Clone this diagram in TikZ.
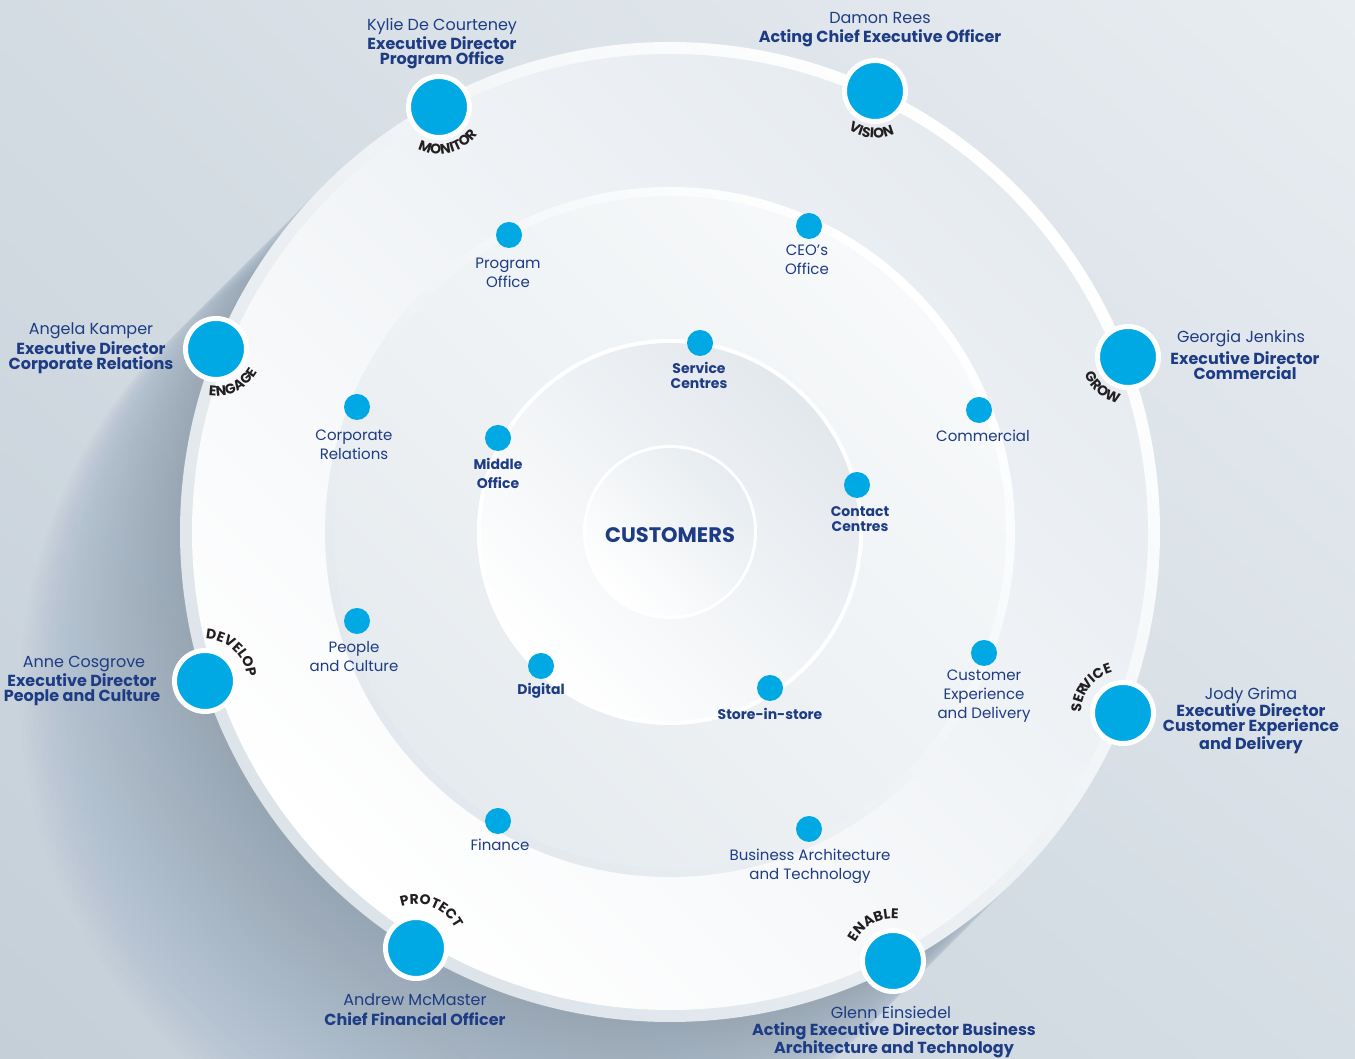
\documentclass[tikz,border=0pt]{standalone}
\usepackage{fontspec}
\setmainfont{Poppins}
\usetikzlibrary{decorations.text,shadings}

\definecolor{navy}{HTML}{1E3C84}
\definecolor{dotblue}{HTML}{00A9E4}
\definecolor{labelink}{HTML}{231F20}
\definecolor{bgUL}{HTML}{D4DCE3}
\definecolor{bgUR}{HTML}{E8EDF1}
\definecolor{bgLL}{HTML}{C4CFD8}
\definecolor{bgLR}{HTML}{D6DEE5}
\definecolor{shadowc}{HTML}{5F7286}
\definecolor{bandLL}{HTML}{DCE3E9}
\definecolor{annUR}{HTML}{E6EBF0}
\definecolor{midLL}{HTML}{E2E8ED}
\definecolor{midannLL}{HTML}{E6EBEF}
\definecolor{midannUR}{HTML}{F7F9FA}
\definecolor{innUR}{HTML}{E3E8ED}
\definecolor{coreUR}{HTML}{E7ECF0}

\newcommand\ringfont{\fontsize{14}{14}\selectfont\bfseries}

\tikzset{
  bigdot/.style={circle, fill=dotblue, draw=white, line width=5pt, minimum size=61pt, inner sep=0pt},
  smalldot/.style={circle, fill=dotblue, minimum size=26pt, inner sep=0pt},
  person/.style={text=navy, inner sep=0pt, font=\fontsize{16}{16}\selectfont},
  role/.style={text=navy, inner sep=0pt, align=center, font=\fontsize{16}{15}\selectfont\bfseries},
  unit/.style={text=navy, inner sep=0pt, align=center, font=\fontsize{15}{19}\selectfont},
  core/.style={text=navy, inner sep=0pt, align=center, font=\fontsize{14}{15}\selectfont\bfseries},
  ringlabel/.style={decorate, decoration={text along path, text align=center,
      text color=labelink, text={|\ringfont|#1}}}
}

\begin{document}
\begin{tikzpicture}[x=1pt,y=1pt]
\useasboundingbox (0,0) rectangle (1355,1059);

% backdrop
\shade[upper left=bgUL, upper right=bgUR, lower left=bgLL, lower right=bgLR]
  (0,0) rectangle (1355,1059);

\coordinate (C) at (670,527);

% soft drop shadow falling to the lower left
\foreach \k in {1,...,40} {
  \fill[shadowc, opacity=0.012] ({670-4*\k},{527-4*\k}) circle (490);
}

% outer disc with its rim
\shade[top color=white, bottom color=bandLL, shading angle=-45] (C) circle (490);
\shade[top color=annUR, bottom color=white, shading angle=-45] (C) circle (478);

% middle disc
\shade[top color=white, bottom color=midLL, shading angle=-45] (C) circle (345);
\shade[top color=midannUR, bottom color=midannLL, shading angle=-45] (C) circle (336);

% inner disc
\fill[white] (C) circle (193);
\shade[top color=innUR, bottom color=white, shading angle=-45] (C) circle (189);

% centre
\fill[white] (C) circle (87);
\shade[top color=coreUR, bottom color=white, shading angle=-45] (C) circle (84);
\node[text=navy, font=\fontsize{21}{21}\selectfont\bfseries] (cust) at (670,524) {CUSTOMERS};

% ring of executives
\node[bigdot] (mon)  at (439,952) {};
\node[bigdot] (vis)  at (875,968) {};
\node[bigdot] (grow) at (1128,702) {};
\node[bigdot] (serv) at (1123,346) {};
\node[bigdot] (enab) at (893,98) {};
\node[bigdot] (prot) at (416,111) {};
\node[bigdot] (dev)  at (205,378) {};
\node[bigdot] (eng)  at (216,710) {};

% curved ring words
\path[ringlabel=MONITOR] (mon.center) ++(194:47) arc[start angle=194, end angle=374, radius=47];
\path[ringlabel=VISION]  (vis.center) ++(175:47) arc[start angle=175, end angle=355, radius=47];
\path[ringlabel=GROW]    (grow.center) ++(140:47) arc[start angle=140, end angle=320, radius=47];
\path[ringlabel=ENGAGE]  (eng.center) ++(206:47) arc[start angle=206, end angle=386, radius=47];
\path[ringlabel=DEVELOP] (dev.center) ++(137:42) arc[start angle=137, end angle=-43, radius=42];
\path[ringlabel={SER|\ringfont\kern-3pt|V|\ringfont|ICE}] (serv.center) ++(232:42) arc[start angle=232, end angle=52, radius=42];
\path[ringlabel=ENABLE]  (enab.center) ++(208:42) arc[start angle=208, end angle=28, radius=42];
\path[ringlabel=PROTECT] (prot.center) ++(158:44) arc[start angle=158, end angle=-22, radius=44];

% names and roles
\node[person] (kylie) at (442,1033) {Kylie De Courteney};
\node[role] (kylieR) at (442,1006) {Executive Director\\Program Office};
\node[person] (damon) at (880,1041) {Damon Rees};
\node[role] (damonR) at (880,1021) {Acting Chief Executive Officer};
\node[person] (angela) at (91,728) {Angela Kamper};
\node[role] (angelaR) at (91,701) {Executive Director\\Corporate Relations};
\node[person] (georgia) at (1241,720) {Georgia Jenkins};
\node[role] (georgiaR) at (1245,693) {Executive Director\\Commercial};
\node[person] (anne) at (84,395) {Anne Cosgrove};
\node[role] (anneR) at (82,369) {Executive Director\\People and Culture};
\node[person] (jody) at (1251,364) {Jody Grima};
\node[role] (jodyR) at (1251,330) {Executive Director\\Customer Experience\\and Delivery};
\node[person] (andrew) at (415,59) {Andrew McMaster};
\node[role] (andrewR) at (415,40) {Chief Financial Officer};
\node[person] (glenn) at (891,47) {Glenn Einsiedel};
\node[role, font=\fontsize{16}{16}\selectfont\bfseries] (glennR) at (894,19) {Acting Executive Director Business\\Architecture and Technology};

% business units
\node[smalldot] (po)  at (509,824) {};
\node[unit] (poT) at (508,786) {Program\\Office};
\node[smalldot] (ceo) at (809,833) {};
\node[unit] (ceoT) at (807,799) {CEO’s\\Office};
\node[smalldot] (com) at (979,649) {};
\node[unit] (comT) at (983,623) {Commercial};
\node[smalldot] (cxd) at (984,406) {};
\node[unit] (cxdT) at (984,363) {Customer\\Experience\\and Delivery};
\node[smalldot] (bat) at (809,230) {};
\node[unit] (batT) at (810,193) {Business Architecture\\and Technology};
\node[smalldot] (fin) at (498,238) {};
\node[unit] (finT) at (500,214) {Finance};
\node[smalldot] (pc)  at (357,438) {};
\node[unit] (pcT) at (354,402) {People\\and Culture};
\node[smalldot] (cr)  at (357,652) {};
\node[unit] (crT) at (354,614) {Corporate\\Relations};

% customer-facing channels
\node[smalldot] (sc)  at (700,716) {};
\node[core] (scT) at (699,684) {Service\\Centres};
\node[smalldot] (mo)  at (498,621) {};
\node[core, font=\fontsize{14}{19}\selectfont\bfseries] (moT) at (498,586) {Middle\\Office};
\node[smalldot] (cc)  at (857,574) {};
\node[core] (ccT) at (860,540) {Contact\\Centres};
\node[smalldot] (dig) at (541,393) {};
\node[core] (digT) at (541,368) {Digital};
\node[smalldot] (sis) at (770,371) {};
\node[core] (sisT) at (770,345) {Store-in-store};
\end{tikzpicture}
\end{document}
